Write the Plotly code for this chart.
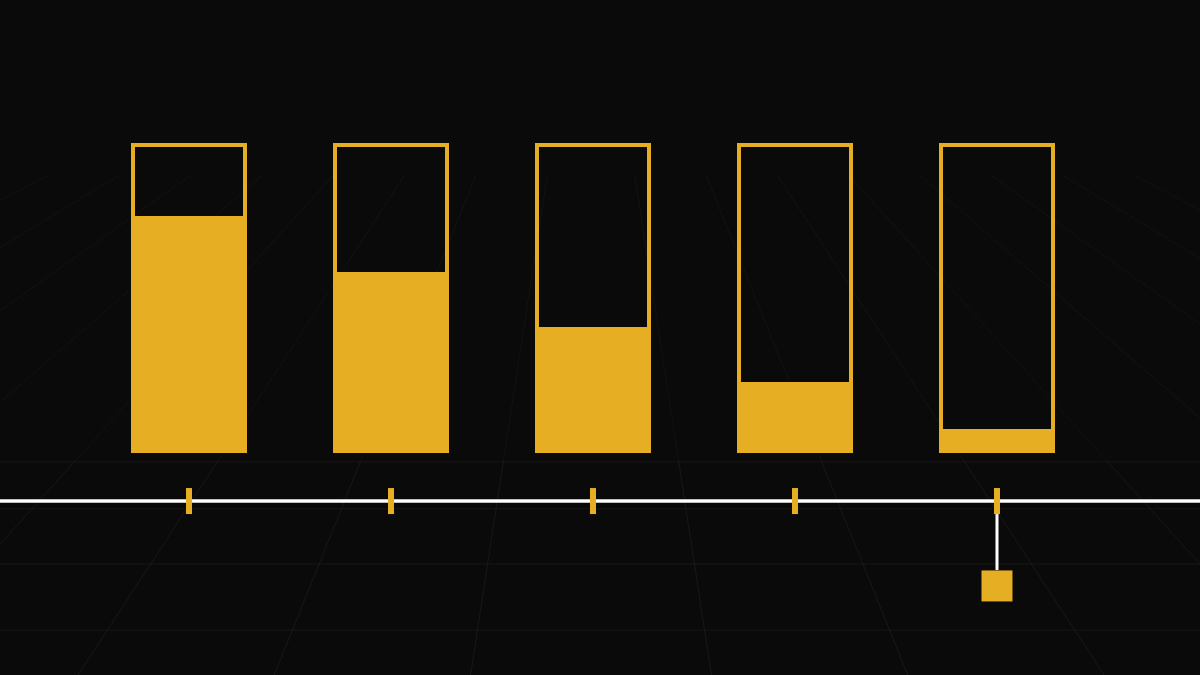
import plotly.graph_objects as go

# ---------------- data ----------------
categories = ["A", "B", "C", "D", "E"]
fill_values = [76, 58, 40, 22, 6.5]
capacity = [100, 100, 100, 100, 100]
selected = "E"

# ---------------- style / layout constants ----------------
GOLD = "#E6AE23"
BG = "#0A0A0A"
W, H = 1200, 675
AXIS_Y = -16.3        # level of the white baseline (data units)
TICK_TOP, TICK_BOT = -12.1, -20.6
MARK_Y = -44.1
CONNECT_BOT = -38.9

fig = go.Figure()

# filled part of each bar
fig.add_trace(go.Bar(
    x=categories, y=fill_values, width=0.555,
    marker=dict(color=GOLD, line=dict(color=GOLD, width=4)),
    hoverinfo="skip", showlegend=False))
# outline (capacity)
fig.add_trace(go.Bar(
    x=categories, y=capacity, width=0.555,
    marker=dict(color="rgba(0,0,0,0)", line=dict(color=GOLD, width=4)),
    hoverinfo="skip", showlegend=False))

# tick marks on baseline
tx, ty = [], []
for c in categories:
    tx += [c, c, None]
    ty += [TICK_TOP, TICK_BOT, None]
fig.add_trace(go.Scatter(x=tx, y=ty, mode="lines",
                         line=dict(color=GOLD, width=6),
                         hoverinfo="skip", showlegend=False))
# connector from selected tick to marker
fig.add_trace(go.Scatter(x=[selected, selected], y=[TICK_BOT, CONNECT_BOT],
                         mode="lines", line=dict(color="white", width=3),
                         hoverinfo="skip", showlegend=False))
fig.add_trace(go.Scatter(x=[selected], y=[MARK_Y], mode="markers",
                         marker=dict(symbol="square", size=31, color=GOLD,
                                     line=dict(width=0)),
                         hoverinfo="skip", showlegend=False))

# ---------------- perspective floor grid (decoration) ----------------
shapes = []
VPX, HOR = 591.0, -110.0


def px(x):
    return x / W


def py(y):
    return 1 - y / H


# horizontal grid rows
r0, step = 1.0 / (564 - HOR), 0.0001324
rows = []
k = -2
while True:
    r = r0 - k * step
    y = HOR + 1.0 / r
    if y < 175:
        break
    rows.append(y)
    k += 1
rows = sorted(rows)


def alpha(y):
    a = (y - 185) / 200.0
    a = max(0.0, min(1.0, a))
    return 0.055 * a


for y in rows:
    if y > H:
        continue
    shapes.append(dict(type="line", xref="paper", yref="paper",
                       x0=0, x1=1, y0=py(y), y1=py(y), layer="below",
                       line=dict(color=f"rgba(255,255,255,{alpha(y):.3f})", width=1)))

# converging lines defined by their offset at y=470
offs = []
for i in range(0, 14):
    offs.append(89 + 145 * i)
    offs.append(-89 - 145 * i)


def xat(s, y):
    return VPX + s * (y - HOR) / (470 - HOR)


bands = [175] + [y for y in rows if y > 175] + [H + 60]
for y0, y1 in zip(bands[:-1], bands[1:]):
    ym = 0.5 * (y0 + y1)
    a = alpha(ym)
    if a <= 0:
        continue
    path = ""
    for s in offs:
        xa, xb = xat(s, y0), xat(s, y1)
        if max(xa, xb) < -50 or min(xa, xb) > W + 50:
            continue
        path += f"M{px(xa):.4f},{py(y0):.4f}L{px(xb):.4f},{py(y1):.4f}"
    if path:
        shapes.append(dict(type="path", xref="paper", yref="paper", path=path,
                           layer="below",
                           line=dict(color=f"rgba(255,255,255,{a:.3f})", width=1)))

# white baseline
shapes.append(dict(type="line", xref="paper", yref="y", x0=0, x1=1,
                   y0=AXIS_Y, y1=AXIS_Y, layer="below",
                   line=dict(color="white", width=3.5)))

fig.update_layout(
    width=W, height=H,
    margin=dict(l=0, r=0, t=0, b=0),
    paper_bgcolor=BG, plot_bgcolor=BG,
    barmode="overlay", bargap=0,
    shapes=shapes,
    xaxis=dict(range=[-0.9356, 5.005], visible=False, fixedrange=True),
    yaxis=dict(range=[-73.2, 147.39], visible=False, fixedrange=True),
    showlegend=False,
)

fig.write_html(
    "out.html",
    config={"displayModeBar": False},
    post_script="document.body.style.margin='0';"
                "document.body.style.background='#0A0A0A';"
                "document.body.style.overflow='hidden';",
)
